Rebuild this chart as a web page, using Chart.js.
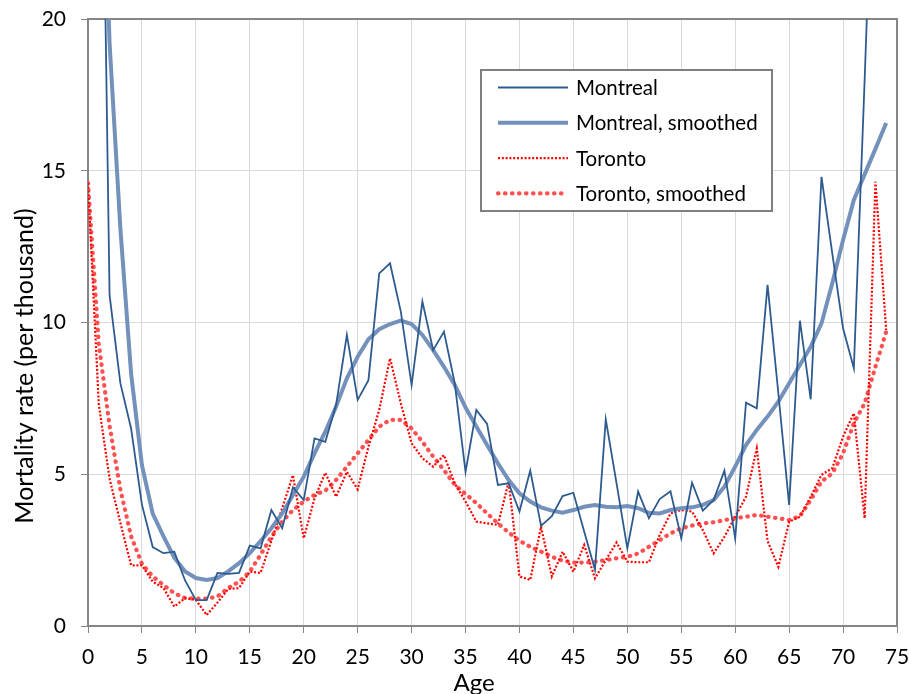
<!DOCTYPE html>
<html>
<head>
<meta charset="utf-8">
<script src="https://cdn.jsdelivr.net/npm/chart.js@4.4.1/dist/chart.umd.min.js"></script>
<style>
  body { margin: 0; background: #fff; }
  #wrap { width: 909px; height: 694px; }
</style>
</head>
<body>
<div id="wrap"><canvas id="myChart" width="909" height="694"></canvas></div>
<script>
var ages = [0, 1, 2, 3, 4, 5, 6, 7, 8, 9, 10, 11, 12, 13, 14, 15, 16, 17, 18, 19,
  20, 21, 22, 23, 24, 25, 26, 27, 28, 29, 30, 31, 32, 33, 34, 35, 36, 37, 38, 39,
  40, 41, 42, 43, 44, 45, 46, 47, 48, 49, 50, 51, 52, 53, 54, 55, 56, 57, 58, 59,
  60, 61, 62, 63, 64, 65, 66, 67, 68, 69, 70, 71, 72, 73, 74]

var montreal = [60, 35, 10.9, 8.0, 6.5, 4.0, 2.6, 2.4, 2.45, 1.5,
  0.85, 0.85, 1.75, 1.72, 1.75, 2.65, 2.56, 3.82, 3.22, 4.57,
  4.15, 6.18, 6.07, 7.28, 9.59, 7.45, 8.1, 11.62, 11.95, 10.36,
  7.94, 10.69, 9.09, 9.7, 8.0, 5.08, 7.12, 6.66, 4.65, 4.7,
  3.77, 5.12, 3.3, 3.62, 4.28, 4.39, 3.11, 1.85, 6.81, 4.7,
  2.56, 4.43, 3.55, 4.18, 4.44, 2.89, 4.72, 3.8, 4.15, 5.12,
  2.89, 7.36, 7.17, 11.24, 7.67, 3.99, 10.06, 7.47, 14.8, 12.28,
  9.81, 8.49, 18, 28, 32]

var montrealSmoothed = [50, 30, 19.2, 13.1, 8.3, 5.3, 3.7, 2.95, 2.25, 1.8,
  1.58, 1.52, 1.58, 1.8, 2.07, 2.4, 2.8, 3.22, 3.71, 4.32,
  4.92, 5.69, 6.4, 7.23, 8.16, 8.87, 9.45, 9.78, 9.95, 10.06,
  9.95, 9.59, 9.09, 8.54, 7.94, 7.2, 6.57, 5.96, 5.36, 4.81,
  4.37, 4.1, 3.91, 3.8, 3.73, 3.82, 3.93, 3.99, 3.93, 3.91,
  3.95, 3.88, 3.73, 3.71, 3.82, 3.88, 3.91, 3.99, 4.15, 4.59,
  5.25, 5.96, 6.46, 6.9, 7.39, 8.0, 8.6, 9.2, 9.97, 11.29,
  12.72, 14.04, 14.88, 15.72, 16.57]

var toronto = [14.6, 7.3, 4.85, 3.4, 2.0, 2.0, 1.46, 1.25, 0.64, 0.92,
  0.86, 0.36, 0.77, 1.22, 1.25, 1.79, 1.75, 2.8, 3.88, 4.97,
  2.89, 4.2, 5.05, 4.26, 5.08, 4.5, 5.91, 7.12, 8.82, 7.34,
  6.02, 5.53, 5.25, 5.63, 4.7, 4.1, 3.44, 3.38, 3.33, 4.76,
  1.63, 1.52, 3.27, 1.63, 2.45, 1.79, 2.67, 1.57, 2.17, 2.75,
  2.12, 2.1, 2.1, 3.0, 3.71, 3.82, 3.77, 3.16, 2.39, 2.94,
  3.6, 4.26, 5.85, 2.8, 1.95, 3.44, 3.6, 4.26, 4.98, 5.2,
  6.24, 7.01, 3.55, 14.64, 9.75]

var torontoSmoothed = [14.6, 9.3, 6.6, 4.5, 2.95, 2.05, 1.63, 1.35, 1.08, 0.92,
  0.9, 0.9, 0.97, 1.25, 1.46, 1.79, 2.35, 2.94, 3.44, 3.82,
  4.1, 4.32, 4.46, 4.81, 5.25, 5.69, 6.13, 6.57, 6.79, 6.79,
  6.51, 6.07, 5.58, 5.14, 4.65, 4.35, 4.05, 3.71, 3.38, 3.08,
  2.81, 2.61, 2.45, 2.28, 2.15, 2.09, 2.09, 2.12, 2.17, 2.23,
  2.28, 2.39, 2.61, 2.83, 3.05, 3.22, 3.31, 3.38, 3.42, 3.49,
  3.55, 3.6, 3.66, 3.6, 3.55, 3.49, 3.62, 4.15, 4.76, 5.03,
  5.69, 6.68, 7.34, 8.54, 9.7]

var xTicks = [0, 5, 10, 15, 20, 25, 30, 35, 40, 45, 50, 55, 60, 65, 70, 75]
var yTicks = [0, 5, 10, 15, 20]
var xTitle = 'Age'
var yTitle = 'Mortality rate (per thousand)'

var FONT = 'Lato'
var AXIS_GREY = '#868686'

function points(values) {
  return ages.map((a, i) => ({ x: a, y: values[i] }))
}

// plot frame on all four sides, axis titles, and the boxed legend inside the plot
var framePlugin = {
  id: 'frame',
  beforeDatasetsDraw(chart) {
    var a = chart.chartArea
    var c = chart.ctx
    c.save()
    c.strokeStyle = AXIS_GREY
    c.lineWidth = 2
    c.strokeRect(a.left, a.top, a.right - a.left, a.bottom - a.top)
    c.restore()
  },
  afterDraw(chart) {
    var c = chart.ctx
    c.save()
    // axis titles (Excel puts them a little off-centre)
    c.fillStyle = '#000'
    c.textAlign = 'center'
    c.textBaseline = 'middle'
    c.font = '24px ' + FONT
    c.fillText(xTitle, 474, 683)
    c.save()
    c.translate(25, 366)
    c.rotate(-Math.PI / 2)
    c.font = '25px ' + FONT
    c.fillText(yTitle, 0, 0)
    c.restore()

    // legend
    var box = { x: 481, y: 70, w: 291, h: 141 }
    c.fillStyle = '#fff'
    c.fillRect(box.x, box.y, box.w, box.h)
    c.strokeStyle = '#7F7F7F'
    c.lineWidth = 2
    c.strokeRect(box.x, box.y, box.w, box.h)
    c.font = '20.5px ' + FONT
    c.textAlign = 'left'
    chart.data.datasets.forEach((ds, i) => {
      var y = 87.5 + i * 35.3
      c.save()
      c.strokeStyle = ds.borderColor
      c.lineWidth = ds.borderWidth
      c.lineCap = ds.borderCapStyle || 'butt'
      c.setLineDash(ds.borderDash || [])
      c.beginPath()
      c.moveTo(498, y)
      c.lineTo(568, y)
      c.stroke()
      c.restore()
      c.fillStyle = '#000'
      c.fillText(ds.label, 576, y + 1)
    })
    c.restore()
  }
}

var ctx = document.getElementById('myChart').getContext('2d')
var chart = new Chart(ctx, {
  type: 'line',
  data: {
    datasets: [{
      label: 'Montreal',
      data: points(montreal),
      borderColor: '#2E5B8F',
      borderWidth: 1.8,
    }, {
      label: 'Montreal, smoothed',
      data: points(montrealSmoothed),
      borderColor: '#7391BB',
      borderWidth: 4,
    }, {
      label: 'Toronto',
      data: points(toronto),
      borderColor: '#FF0000',
      borderWidth: 2.2,
      borderDash: [2, 1.8],
    }, {
      label: 'Toronto, smoothed',
      data: points(torontoSmoothed),
      borderColor: '#FF5050',
      borderWidth: 4.2,
      borderDash: [0.5, 6.5],
      borderCapStyle: 'round',
    }]
  },
  options: {
    responsive: false,
    animation: false,
    devicePixelRatio: 1,
    elements: {
      point: { radius: 0, hoverRadius: 0 },
      line: { tension: 0, fill: false }
    },
    layout: { padding: { top: 19, right: 12, left: 0, bottom: 0 } },
    plugins: {
      legend: { display: false },
      tooltip: { enabled: false }
    },
    scales: {
      x: {
        type: 'linear',
        min: 0,
        max: 75,
        afterBuildTicks: (scale) => { scale.ticks = xTicks.map(v => ({ value: v })) },
        afterFit: (scale) => {
          scale.height = 68
          scale.paddingLeft = 0
          scale.paddingRight = 0
        },
        grid: { color: '#D9D9D9', lineWidth: 1, tickLength: 7, tickColor: AXIS_GREY },
        border: { color: AXIS_GREY, width: 2 },
        ticks: { color: '#000', font: { family: FONT, size: 21 }, padding: 12, maxRotation: 0 }
      },
      y: {
        min: 0,
        max: 20,
        afterBuildTicks: (scale) => { scale.ticks = yTicks.map(v => ({ value: v })) },
        afterFit: (scale) => {
          scale.width = 88
          scale.paddingTop = 0
          scale.paddingBottom = 0
        },
        grid: { color: '#D9D9D9', lineWidth: 1, tickLength: 7, tickColor: AXIS_GREY },
        border: { color: AXIS_GREY, width: 2 },
        ticks: { color: '#000', font: { family: FONT, size: 21 }, padding: 15 }
      }
    }
  },
  plugins: [framePlugin]
})
</script>
</body>
</html>
